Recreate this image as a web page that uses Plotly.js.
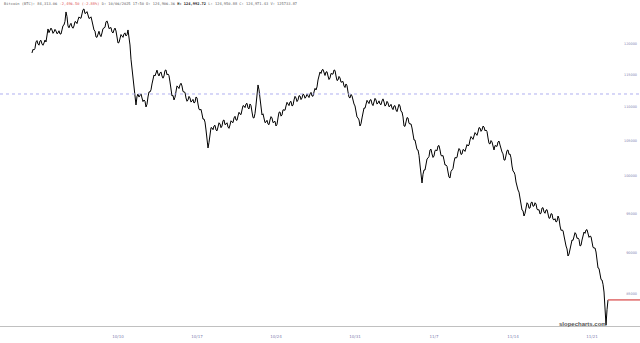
<!DOCTYPE html>
<html>
<head>
<meta charset="utf-8">
<script src="https://cdn.plot.ly/plotly-3.0.1.min.js"></script>
<style>html,body{margin:0;padding:0;background:#fff;}#chart{width:640px;height:343px;}</style>
</head>
<body>
<div id="chart"></div>
<script>
// Bitcoin (BTC) prices: bars every stepMinutes from startTime.
// barPrices are the main bars; halfBarPrices are the bars that fall between consecutive main bars.
const startTime = "2025-10-02T09:05:00";
const stepMinutes = 127.6;
const barPrices = [
118518,119011,120330,120000,120498,120000,120165,120330,122509,122171,
122340,122003,122171,121835,121667,122340,123187,125415,123017,123187,
122847,123017,123698,124040,124381,125070,125936,125242,124898,124381,
123869,122340,121164,121835,121499,121835,122678,123698,123357,122678,
122003,122340,122171,120165,120997,121331,121667,121331,122340,119835,
115773,112623,110317,112003,111849,111386,111080,110012,111540,112312,
113559,114977,115453,115136,115295,114818,114818,115773,115136,113873,
111694,111080,112623,113088,113403,113247,112312,111386,111080,111386,
110927,110620,111540,110469,109559,108956,108207,106577,103963,106283,
106871,107165,106577,107018,107463,107165,108058,107463,107018,107315,
107759,108356,108058,108656,108956,109559,110165,110469,109861,110469,
109256,108356,110317,113403,111080,108806,108356,107759,107463,108058,
108356,107759,107165,108356,109256,108806,109559,110165,110469,110773,
110165,111080,111386,111080,111694,111386,111849,111540,111694,112003,
111694,112312,112623,114187,115453,115773,115136,115453,114818,114503,
115136,115773,114818,114187,114503,113873,113247,113559,112312,111386,
111694,110469,109256,108356,107165,108356,109861,110469,110773,111080,
110469,110773,111080,110621,110469,110927,110773,110317,110621,110165,
109861,110165,109559,109861,110165,109256,107165,107759,108356,107463,
106871,105117,104395,103677,101554,99063,100856,101554,102539,103677,
103107,102823,103677,104251,103677,102823,102257,101554,100578,99749,
100856,101975,102539,103391,103677,103107,103677,103963,104251,105117,
105407,105697,105991,106283,106871,106577,107018,106577,105407,104539,
104827,103677,104251,104827,104395,103391,102257,102823,103677,103107,
101414,100578,99199,98112,97035,95442,94655,95969,96235,95706,
96501,95969,96235,95442,94917,95706,95179,95442,94917,94395,
94917,94135,93875,94655,93359,92845,92080,90820,89574,90569,
91574,92080,92334,91826,90820,91574,92588,92845,92334,92080,
91320,90569,90069,88104,87378,86658,85234,81443,84313
];
const halfBarPrices = [
119115,119270,120565,119799,120599,119783,120648,121920,121890,122656,
121772,122437,121703,122201,121654,123064,123801,124616,122702,123467,
122632,123758,123419,124561,124326,125803,125139,125470,124290,124575,
122805,122152,121100,122117,121217,122557,122788,123878,122568,122741,
121822,122656,120868,120231,121564,121099,121849,121536,121388,117504,
114598,111170,111610,111526,112018,110833,110896,110426,112326,112636,
114618,114815,115745,114816,115457,114468,115696,115005,114855,112484,
111787,111502,113256,112846,113675,112380,112249,110883,111633,110757,
111174,110730,111405,109664,109658,108182,107742,104970,104773,106927,
106618,107271,106448,107641,106914,107962,107361,107641,106817,107937,
107658,108607,108007,109206,108858,110212,109917,110565,109715,110213,
108406,109037,112160,112642,109643,108981,107658,108011,107361,108557,
107658,107862,107411,109206,108631,109583,109512,110717,110221,110869,
110273,111633,110833,111737,111140,112018,111345,112017,111449,112249,
111653,112868,113105,115170,115213,115855,114895,115486,114261,115220,
115105,115696,114103,114745,113838,113960,113003,113286,111499,111940,
110732,110163,108506,108061,107511,109409,109815,111021,110527,111125,
110221,111327,110451,110945,110348,111250,110145,110869,110043,110413,
109613,110212,109310,110413,109361,108511,107112,108408,107560,107467,
105694,105106,103736,102916,100009,100260,100855,102397,102758,103792,
102615,103600,103564,104314,102900,102890,101556,101366,99864,100653,
101066,102607,102615,103884,103042,103742,103470,104457,104384,105612,
105202,106194,105787,106927,106374,107148,106448,106342,104623,105033,
103952,104314,104189,104961,103593,103124,102240,103600,103042,102561,
100696,100189,98356,97824,95989,95349,95012,96402,95671,96404,
95935,96402,95539,95480,95012,95743,95011,95480,94356,94956,
94226,94305,93965,94307,92802,92763,91200,90447,89822,91372,
91527,92507,91780,91623,90897,92381,92417,92890,91907,92000,
90645,90569,88837,88041,86718,86146,83139,83178
];
const refLevel = 112000;
const tickDates = ["2025-10-10","2025-10-17","2025-10-24","2025-10-31","2025-11-07","2025-11-14","2025-11-21"];
const tickDateText = ["10/10","10/17","10/24","10/31","11/7","11/14","11/21"];
const priceTicks = [85000,90000,95000,100000,105000,110000,115000,120000];
const priceTickText = ["85000","90000","95000","100000","105000","110000","115000","120000"];
const headerText = 'Bitcoin (BTC): 84,313.06 <span style="color:#e05a5a">-2,496.50 (-2.88%)</span> D: 10/06/2025 17:50 O: 124,906.36 <b style="color:#222">H: 124,992.72</b> L: 124,950.88 C: 124,971.43 V: 125733.87';

// interleave main bars and in-between bars
const prices = [];
barPrices.forEach((p, i) => { prices.push(p); if (i < halfBarPrices.length) prices.push(halfBarPrices[i]); });

function fmt(d){
  const p=n=>String(n).padStart(2,'0');
  return d.getFullYear()+'-'+p(d.getMonth()+1)+'-'+p(d.getDate())+' '+p(d.getHours())+':'+p(d.getMinutes())+':'+p(d.getSeconds());
}
const t0 = new Date(startTime);
const times = prices.map((_,i)=>fmt(new Date(t0.getTime()+Math.round(i*stepMinutes*60000))));
const lastTime = times[times.length-1];
const lastPrice = prices[prices.length-1];

const trace = {
  x: times, y: prices, type: 'scatter', mode: 'lines',
  line: {color: '#000', width: 1}, hoverinfo: 'skip'
};

const layout = {
  width: 640, height: 343,
  margin: {l: 0, r: 0, t: 0, b: 17},
  paper_bgcolor: '#fff', plot_bgcolor: '#fff',
  showlegend: false,
  xaxis: {
    type: 'date',
    range: ['2025-09-29 13:04', '2025-11-25 06:03'],
    tickvals: tickDates, ticktext: tickDateText,
    tickfont: {family: 'DejaVu Sans', size: 4, color: '#8080b0'},
    showgrid: false, zeroline: false,
    showline: true, linecolor: '#c0c0c0', linewidth: 1,
    ticks: '', ticklabelstandoff: 6
  },
  yaxis: {
    type: 'log',
    range: [4.91026, 5.10551],
    side: 'right',
    ticklabelposition: 'inside',
    tickvals: priceTicks, ticktext: priceTickText,
    tickfont: {family: 'DejaVu Sans', size: 3.4, color: '#8080b0'},
    showgrid: false, zeroline: false, showline: false, ticks: '',
    ticklabelstandoff: 0
  },
  shapes: [
    {type: 'line', xref: 'paper', x0: 0, x1: 1, yref: 'y', y0: refLevel, y1: refLevel,
     line: {color: '#b0b0f0', width: 1, dash: '3px,3px'}},
    {type: 'line', xref: 'x', x0: lastTime, yref: 'y', y0: lastPrice, y1: lastPrice,
     x1: '2025-11-25 06:03', line: {color: '#e06a6a', width: 1.5}}
  ],
  annotations: [
    {text: headerText, xref: 'paper', yref: 'paper', x: 0.003, y: 1.0, xanchor: 'left', yanchor: 'top',
     showarrow: false, font: {family: 'DejaVu Sans Mono', size: 3.7, color: '#666'}},
    {text: '<b>slopecharts.com</b>', xref: 'paper', yref: 'paper', x: 0.951, y: 0.006, xanchor: 'right', yanchor: 'middle',
     showarrow: false, font: {family: 'Liberation Sans', size: 6, color: '#555'}}
  ]
};

Plotly.newPlot('chart', [trace], layout, {displayModeBar: false, staticPlot: true});
</script>
</body>
</html>
